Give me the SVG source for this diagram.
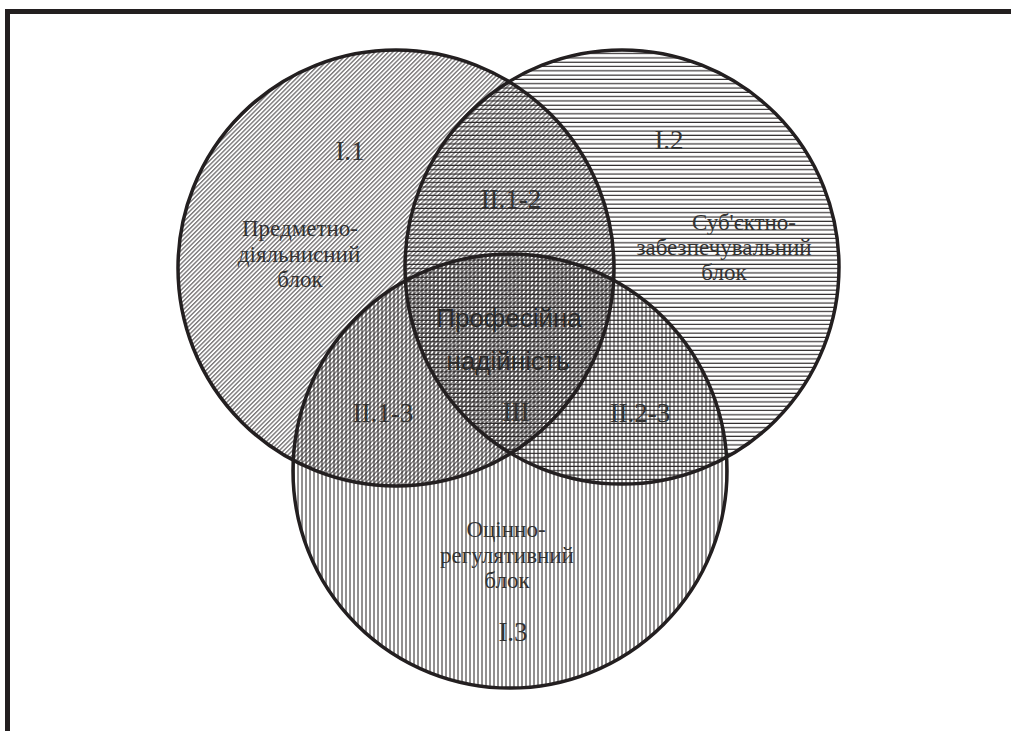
<svg xmlns="http://www.w3.org/2000/svg" width="1011" height="731" viewBox="0 0 1011 731">
<style>
.ring{stroke:#231f20;stroke-width:3.5}
.lbl{font-family:"Liberation Serif","Times New Roman",serif;font-size:23px;fill:#333;text-anchor:middle}
.num{font-family:"Liberation Serif","Times New Roman",serif;font-size:27px;fill:#333;text-anchor:middle}
.core{font-family:"Liberation Sans",Arial,sans-serif;font-size:26px;fill:#2a2a2a;text-anchor:middle}
.frame{stroke:#231f20;stroke-width:5;fill:none}
</style>
<defs>
<pattern id="diag" patternUnits="userSpaceOnUse" width="3.1" height="10" patternTransform="rotate(45)">
<line x1="1.5" y1="0" x2="1.5" y2="10" stroke="#231f20" stroke-width="0.85"/>
</pattern>
<pattern id="horiz" patternUnits="userSpaceOnUse" width="10" height="4.3">
<line x1="0" y1="2" x2="10" y2="2" stroke="#231f20" stroke-width="1.1"/>
</pattern>
<pattern id="vert" patternUnits="userSpaceOnUse" width="4" height="10">
<line x1="2" y1="0" x2="2" y2="10" stroke="#231f20" stroke-width="1"/>
</pattern>
</defs>
<rect x="0" y="0" width="1011" height="731" fill="#fff"/>
<path class="frame" d="M7.5 731 V11.5 H1011"/>
<g id="block-1">
<circle cx="396" cy="268" r="218" fill="url(#diag)"/>
</g>
<g id="block-2">
<circle cx="622" cy="267" r="217" fill="url(#horiz)"/>
</g>
<g id="block-3">
<circle cx="510" cy="471" r="217" fill="url(#vert)"/>
</g>
<g id="outlines" fill="none">
<circle class="ring" cx="396" cy="268" r="218"/>
<circle class="ring" cx="622" cy="267" r="217"/>
<circle class="ring" cx="510" cy="471" r="217"/>
</g>
<g id="connectors"></g>
<g id="labels">
<text class="num" x="350" y="160">I.1</text>
<text class="lbl" x="300" y="236">Предметно-</text>
<text class="lbl" x="299" y="262">діяльнисний</text>
<text class="lbl" x="300" y="287">блок</text>
<text class="num" x="669" y="149">I.2</text>
<text class="lbl" x="744" y="230">Суб'єктно-</text>
<text class="lbl" x="724" y="255">забезпечувальний</text>
<text class="lbl" x="724" y="280">блок</text>
<text class="num" x="511" y="208">II.1-2</text>
<text class="core" x="509" y="327">Професійна</text>
<text class="core" x="508" y="370">надійність</text>
<text class="num" x="516" y="421">III</text>
<text class="num" x="383" y="422">II.1-3</text>
<text class="num" x="640" y="422">II.2-3</text>
<text class="lbl" x="506" y="537">Оцінно-</text>
<text class="lbl" x="507" y="563">регулятивний</text>
<text class="lbl" x="507" y="588">блок</text>
<text class="num" x="513" y="641">I.3</text>
</g>
</svg>
